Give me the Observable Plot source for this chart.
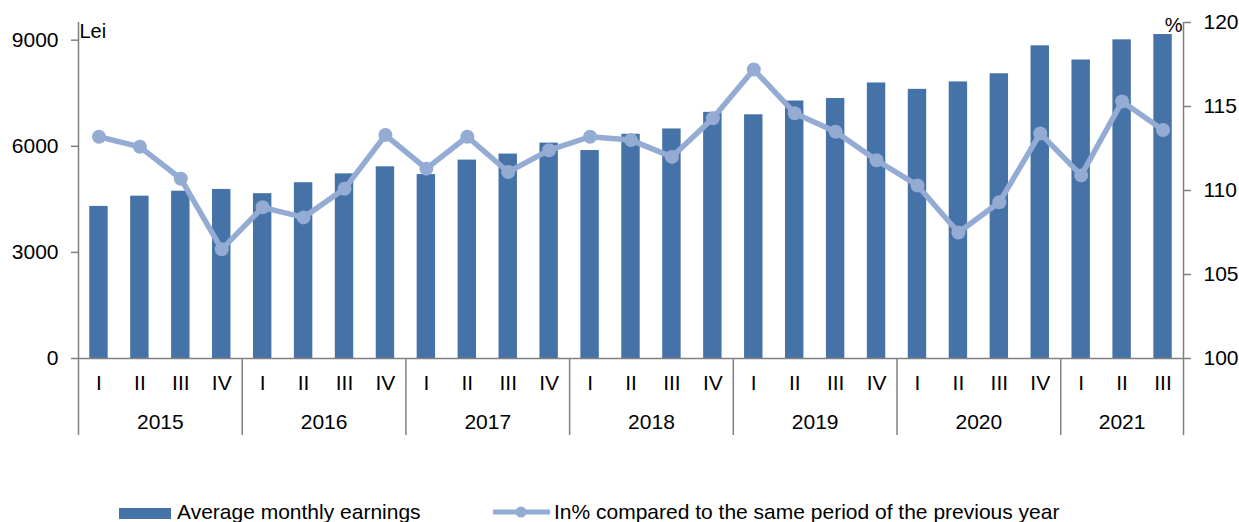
<!DOCTYPE html>
<html>
<head>
<meta charset="utf-8">
<script src="https://cdn.jsdelivr.net/npm/d3@7"></script>
<script src="https://cdn.jsdelivr.net/npm/@observablehq/plot@0.6"></script>
<style>
  body { margin: 0; background: #fff; font-family: "Liberation Sans", Arial, sans-serif; }
  #wrap { position: relative; width: 1239px; height: 522px; overflow: hidden; background: #fff; }
  #wrap > svg { position: absolute; left: 0; top: 0; }
  .leg { position: absolute; font-size: 21px; line-height: 21px; color: #000; white-space: nowrap; }
</style>
</head>
<body>
<div id="wrap"></div>
<script>
// ---- data ----
const years = [2015,2015,2015,2015, 2016,2016,2016,2016, 2017,2017,2017,2017, 2018,2018,2018,2018,
               2019,2019,2019,2019, 2020,2020,2020,2020, 2021,2021,2021];
const quarters = ["I","II","III","IV", "I","II","III","IV", "I","II","III","IV", "I","II","III","IV",
                  "I","II","III","IV", "I","II","III","IV", "I","II","III"];
const earnings = [4300, 4590, 4730, 4780, 4660, 4970, 5220, 5420, 5200, 5610, 5780, 6090,
                  5880, 6340, 6490, 6960, 6890, 7280, 7350, 7790, 7610, 7820, 8050, 8840,
                  8440, 9010, 9160];
const pctPrevYear = [113.2, 112.6, 110.7, 106.5, 109.0, 108.4, 110.1, 113.3, 111.3, 113.2, 111.1, 112.4,
                     113.2, 113.0, 112.0, 114.3, 117.2, 114.6, 113.5, 111.8, 110.3, 107.5, 109.3, 113.4,
                     110.9, 115.3, 113.6];
const leftTicks = [0, 3000, 6000, 9000];
const rightTicks = [100, 105, 110, 115, 120];
const seriesNames = ["Average monthly earnings", "In% compared to the same period of the previous year"];
const unitLeft = "Lei";
const unitRight = "%";

// ---- styling / layout ----
const barColor = "#4572a7";
const lineColor = "#94abd3";
const axisColor = "#808080";
const W = 1239, H = 440, mL = 78, mR = 56, mT = 22, yZero = 358, axisBottom = 435;
const leftMax = 9500;
const n = earnings.length;
const step = (W - mL - mR) / n;
const y2left = d3.scaleLinear([100, 120], [0, leftMax]);

const data = earnings.map((v, i) => ({
  key: years[i] + " " + quarters[i], year: years[i], q: quarters[i], earn: v, pct: pctPrevYear[i]
}));
const yearGroups = d3.groups(data, d => d.year).map(([y, arr]) => ({
  year: y, first: arr[0].key, mid: arr[Math.floor((arr.length - 1) / 2)].key, even: arr.length % 2 === 0
}));

const font = "'Liberation Sans', Arial, sans-serif";

const chart = Plot.plot({
  width: W, height: H,
  marginTop: mT, marginLeft: mL, marginRight: mR, marginBottom: H - axisBottom,
  style: { fontFamily: font, fontSize: "21px", color: "#000", background: "#fff", overflow: "visible" },
  x: { domain: data.map(d => d.key), paddingInner: 0.55, paddingOuter: 0.275, round: false, axis: null },
  y: { domain: [0, leftMax], range: [yZero, mT], axis: null },
  marks: [
    Plot.barY(data, { x: "key", y: "earn", fill: barColor }),
    Plot.ruleY([0], { stroke: axisColor, strokeWidth: 1.5 }),
    Plot.ruleX([data[0].key], { dx: -step / 2, stroke: axisColor, strokeWidth: 1.5 }),
    Plot.ruleX([data[n - 1].key], { dx: step / 2, stroke: axisColor, strokeWidth: 1.5 }),
    Plot.ruleX(yearGroups.slice(1), { x: "first", dx: -step / 2, insetTop: yZero - mT, stroke: axisColor, strokeWidth: 1.5 }),
    Plot.line(data, { x: "key", y: d => y2left(d.pct), stroke: lineColor, strokeWidth: 5.5, strokeLinejoin: "round" }),
    Plot.dot(data, { x: "key", y: d => y2left(d.pct), r: 7, fill: lineColor, stroke: "none" }),
    Plot.axisY(leftTicks, { anchor: "left", tickSize: 7, tickPadding: 13, stroke: axisColor, strokeWidth: 1.5,
      fill: "#000", fontSize: 21, tickFormat: d => String(d), label: null }),
    Plot.axisY(rightTicks.map(v => y2left(v)), { anchor: "right", tickSize: 7, tickPadding: 13, stroke: axisColor, strokeWidth: 1.5,
      fill: "#000", fontSize: 21, tickFormat: v => String(Math.round(y2left.invert(v))), label: null }),
    Plot.text(data, { x: "key", text: "q", frameAnchor: "bottom", dy: -46, fontSize: 21, fill: "#000" }),
    Plot.text(yearGroups.filter(g => g.even), { x: "mid", text: d => String(d.year), frameAnchor: "bottom", dy: -7, dx: step / 2, fontSize: 21, fill: "#000" }),
    Plot.text(yearGroups.filter(g => !g.even), { x: "mid", text: d => String(d.year), frameAnchor: "bottom", dy: -7, fontSize: 21, fill: "#000" }),
    Plot.text([unitLeft], { frameAnchor: "top-left", textAnchor: "start", lineAnchor: "top", dx: 1, dy: 1, fontSize: 20, fill: "#000" }),
    Plot.text([unitRight], { frameAnchor: "top-right", textAnchor: "end", lineAnchor: "top", dx: -1, dy: -5, fontSize: 20, fill: "#000" })
  ]
});

const wrap = document.getElementById("wrap");
wrap.appendChild(chart);

// ---- legend (HTML, below the plot) ----
const leg = document.createElement("div");
leg.innerHTML = `
  <div class="leg" style="left:119px;top:508px;width:52px;height:11px;background:${barColor}"></div>
  <div class="leg" style="left:177px;top:501px">${seriesNames[0]}</div>
  <svg style="position:absolute;left:490px;top:502px" width="64" height="20">
    <line x1="3" x2="60" y1="10" y2="10" stroke="${lineColor}" stroke-width="5"/>
    <circle cx="31" cy="10" r="5.5" fill="${lineColor}"/>
  </svg>
  <div class="leg" style="left:554px;top:501px">${seriesNames[1]}</div>`;
wrap.appendChild(leg);
</script>
</body>
</html>
